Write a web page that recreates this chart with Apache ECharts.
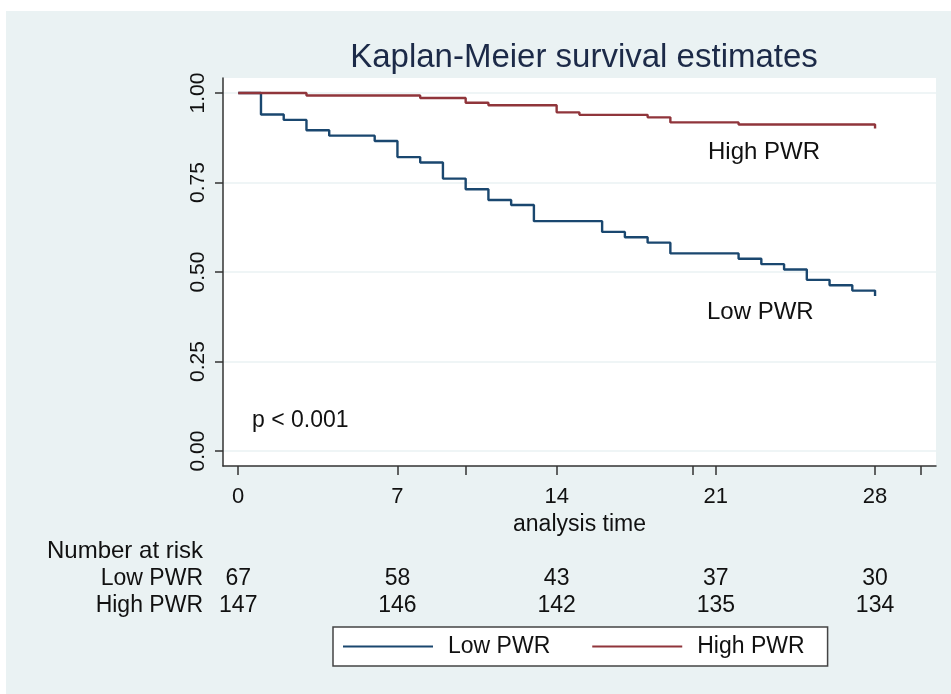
<!DOCTYPE html>
<html>
<head>
<meta charset="utf-8">
<title>Kaplan-Meier survival estimates</title>
<script src="https://cdn.jsdelivr.net/npm/echarts@6/dist/echarts.min.js"></script>
<style>
  html, body { margin: 0; padding: 0; background: #fff; }
  #km_chart { width: 951px; height: 694px; }
</style>
</head>
<body>
<div id="km_chart"></div>
<script>
// survival estimates (time in days)
var lowTime = [0, 1, 2, 3, 4, 6, 7, 8, 9, 10, 11, 12, 13, 16, 17, 18, 19, 22, 23, 24, 25, 26, 27, 28]
var lowSurv = [1.000, 0.940, 0.925, 0.896, 0.881, 0.866, 0.821, 0.806, 0.761, 0.731, 0.701, 0.687, 0.642,
  0.612, 0.597, 0.582, 0.552, 0.537, 0.522, 0.507, 0.478, 0.463, 0.448, 0.433]
var highTime = [0, 3, 8, 10, 11, 14, 15, 18, 19, 22, 28]
var highSurv = [1.000, 0.993, 0.986, 0.973, 0.966, 0.946, 0.939, 0.932, 0.918, 0.912, 0.901]

// axes
var xTicks = [0, 7, 10, 14, 20, 21, 28, 30]
var xLabels = [0, 7, 14, 21, 28]
var yTicks = [0, 0.25, 0.5, 0.75, 1]

// number at risk table
var riskTimes = [0, 7, 14, 21, 28]
var lowRisk = [67, 58, 43, 37, 30]
var highRisk = [147, 146, 142, 135, 134]

var fontFamily = '"Liberation Sans", Arial, sans-serif'
var navy = '#1a476f'
var maroon = '#90353b'
var ink = '#111'

function pairs(t, s) {
  return t.map(function(x, i) { return [x, s[i]] })
}

var chart = echarts.init(document.getElementById('km_chart'))
chart.setOption({
  backgroundColor: '#eaf2f3',
  animation: false,
  textStyle: { fontFamily: fontFamily },
  title: {
    text: 'Kaplan-Meier survival estimates',
    left: 579,
    top: 36,
    textAlign: 'center',
    textStyle: { fontSize: 33, fontWeight: 'normal', color: '#1c2a48', fontFamily: fontFamily }
  },
  grid: {
    left: 223,
    top: 78,
    right: 15,
    bottom: 228,
    show: true,
    backgroundColor: '#fff',
    borderWidth: 0
  },
  legend: {
    left: 333,
    top: 627,
    padding: [8, 23, 8, 10],
    icon: 'rect',
    itemWidth: 90,
    itemHeight: 2,
    itemGap: 42,
    backgroundColor: '#fff',
    borderColor: '#444',
    borderWidth: 1.5,
    borderRadius: 0,
    data: ['Low PWR', 'High PWR'],
    textStyle: { fontSize: 23, color: ink, padding: [0, 0, 0, 10], fontFamily: fontFamily }
  },
  xAxis: {
    type: 'value',
    min: -0.67,
    max: 30.68,
    name: 'analysis time',
    nameLocation: 'middle',
    nameGap: 41,
    nameTextStyle: { fontSize: 23, color: ink },
    axisLine: { show: true, onZero: false, lineStyle: { color: '#333', width: 1.5 } },
    axisTick: { show: true, length: 9, customValues: xTicks, lineStyle: { color: '#333', width: 1.5 } },
    axisLabel: { customValues: xLabels, fontSize: 22, color: ink, margin: 20 },
    splitLine: { show: false }
  },
  yAxis: {
    type: 'value',
    min: -0.042,
    max: 1.042,
    axisLine: { show: true, onZero: false, lineStyle: { color: '#333', width: 1.5 } },
    axisTick: { show: true, length: 8, customValues: yTicks, lineStyle: { color: '#333', width: 1.5 } },
    axisLabel: {
      customValues: yTicks,
      rotate: 90,
      fontSize: 21,
      color: ink,
      margin: 14,
      formatter: function(v) { return v.toFixed(2) }
    },
    splitLine: { show: true, lineStyle: { color: '#eaf2f3', width: 1.5 } }
  },
  series: [
    {
      name: 'Low PWR',
      type: 'line',
      step: 'end',
      symbol: 'none',
      data: pairs(lowTime, lowSurv),
      lineStyle: { color: navy, width: 2.4 },
      itemStyle: { color: navy }
    },
    {
      name: 'High PWR',
      type: 'line',
      step: 'end',
      symbol: 'none',
      data: pairs(highTime, highSurv),
      lineStyle: { color: maroon, width: 2.4 },
      itemStyle: { color: maroon }
    }
  ]
})

// texts placed round the plot, the risk numbers under the x ticks
var font = '23px ' + fontFamily
var elements = [
  { type: 'rect', shape: { x: 0, y: 0, width: 951, height: 11 }, style: { fill: '#fff' }, silent: true },
  { type: 'rect', shape: { x: 0, y: 0, width: 6, height: 694 }, style: { fill: '#fff' }, silent: true },
  { type: 'text', x: 708, y: 152, style: { text: 'High PWR', font: '24px ' + fontFamily, fill: ink, verticalAlign: 'middle' } },
  { type: 'text', x: 707, y: 312, style: { text: 'Low PWR', font: '24px ' + fontFamily, fill: ink, verticalAlign: 'middle' } },
  { type: 'text', x: 252, y: 421, style: { text: 'p < 0.001', font: font, fill: ink, verticalAlign: 'middle' } },
  { type: 'text', x: 47, y: 551, style: { text: 'Number at risk', font: '24px ' + fontFamily, fill: ink, verticalAlign: 'middle' } },
  { type: 'text', x: 203, y: 579, style: { text: 'Low PWR', font: font, fill: ink, align: 'right', verticalAlign: 'middle' } },
  { type: 'text', x: 203, y: 606, style: { text: 'High PWR', font: font, fill: ink, align: 'right', verticalAlign: 'middle' } }
]
riskTimes.forEach(function(t, i) {
  var px = chart.convertToPixel({ xAxisIndex: 0 }, t)
  elements.push({ type: 'text', x: px, y: 579, style: { text: String(lowRisk[i]), font: font, fill: ink, align: 'center', verticalAlign: 'middle' } })
  elements.push({ type: 'text', x: px, y: 606, style: { text: String(highRisk[i]), font: font, fill: ink, align: 'center', verticalAlign: 'middle' } })
})
chart.setOption({ graphic: { elements: elements } })
</script>
</body>
</html>
